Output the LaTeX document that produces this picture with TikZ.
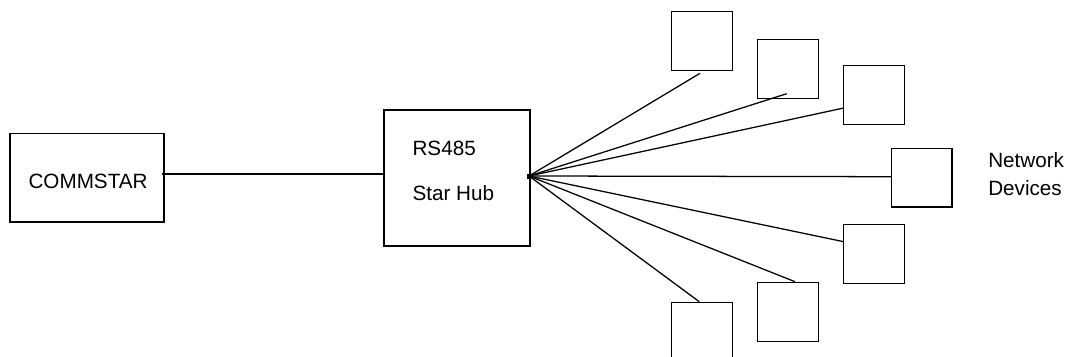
\documentclass[tikz,border=0pt]{standalone}
\usepackage{fontspec}
\setmainfont{Liberation Sans}
\begin{document}
\begin{tikzpicture}[x=0.75pt,y=-0.75pt,
  box/.style={draw=black,line width=1.1pt,inner sep=0pt,outer sep=0pt},
  dev/.style={box,minimum width=60.5*0.75pt,minimum height=58.5*0.75pt},
  lbl/.style={anchor=base west,inner sep=0pt,font=\fontsize{15.5}{18}\selectfont},
  wire/.style={line width=0.95pt}]
\useasboundingbox (0,0) rectangle (1071,357);
\clip (0,0) rectangle (1071,357);
% main boxes
\node[box,minimum width=154*0.75pt,minimum height=88.3*0.75pt] (commstar) at (87,177.85) {};
\node[box,minimum width=146*0.75pt,minimum height=136*0.75pt] (hub) at (457,178) {};
% device boxes
\node[dev] (b1) at (702,41) {};
\node[dev] (b2) at (788,69) {};
\node[dev] (b3) at (874,95) {};
\node[dev] (b4) at (921.7,177.8) {};
\node[dev] (b5) at (874,254) {};
\node[dev] (b6) at (788,312) {};
\node[dev] (b7) at (702,331.5) {};
% texts
\node[lbl] (tcs) at (28.3,188.3) {COMMSTAR};
\node[lbl] (trs) at (412.3,155.7) {RS485};
\node[lbl] (tsh) at (412.3,200) {Star Hub};
\node[lbl] (tnw) at (988,167.7) {Network};
\node[lbl] (tdv) at (988,195) {Devices};
% connector points
\coordinate (c0) at (161.7,174);
\coordinate (h0) at (384,174);
\coordinate (j) at (529,176);
\coordinate (e1) at (700,73.3);
\coordinate (e2) at (786.7,93.7);
\coordinate (e3) at (843.7,108);
\coordinate (e4) at (891.7,176.7);
\coordinate (e5) at (843.7,241.7);
\coordinate (e6) at (795,281.7);
\coordinate (e7) at (699.3,301.7);
% connectors
\draw[wire] (c0) -- (h0);
\foreach \e in {e1,e2,e3,e4,e5,e6,e7} \draw[wire] (j) -- (\e);
\fill (527,173.5) rectangle (531,178.5);
\end{tikzpicture}
\end{document}
